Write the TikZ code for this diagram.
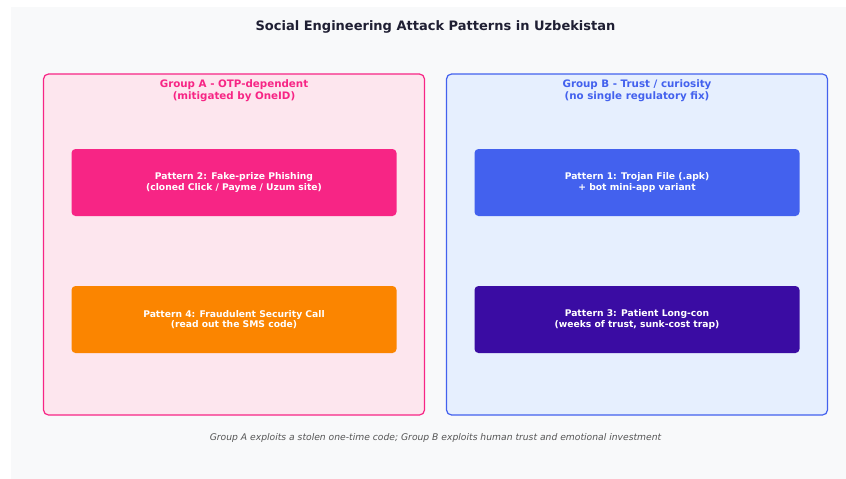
\documentclass[tikz,border=0pt]{standalone}
\usepackage{fontspec}
\setmainfont{DejaVu Sans}
\usepackage{tikz}
\usetikzlibrary{positioning}

\definecolor{bgpanel}{HTML}{F8F9FA}
\definecolor{titleink}{HTML}{1F1F33}
\definecolor{pinkA}{HTML}{F72585}
\definecolor{pinkAfill}{HTML}{FDE6EE}
\definecolor{blueB}{HTML}{4361EE}
\definecolor{blueBfill}{HTML}{E6EFFE}
\definecolor{orangeP}{HTML}{FB8500}
\definecolor{purpleP}{HTML}{3A0CA3}
\definecolor{noteink}{HTML}{555555}

\tikzstyle{group} = [rectangle, rounded corners=5pt, minimum width=381pt, minimum height=341pt, line width=1.2pt, inner sep=0pt]
\tikzstyle{grouplabel} = [font=\fontsize{10.3}{12}\selectfont\bfseries, align=center, inner sep=0pt]
\tikzstyle{pattern} = [rectangle, rounded corners=4pt, minimum width=325pt, minimum height=67pt, text=white, align=center, font=\fontsize{9.2}{10.2}\selectfont\bfseries, inner sep=0pt]

\begin{document}
\begin{tikzpicture}[x=1pt, y=-1pt]
\useasboundingbox (0,0) rectangle (846,479);
\fill[bgpanel] (11,7) rectangle (846,479);

\node (title) [font=\fontsize{13}{15}\selectfont\bfseries, text=titleink] at (435.5,27) {Social Engineering Attack Patterns in Uzbekistan};

% the two groups
\node (groupA) [group, draw=pinkA, fill=pinkAfill] at (234,244.5) {};
\node (groupB) [group, draw=blueB, fill=blueBfill] at (637,244.5) {};
\node (labelA) [grouplabel, text=pinkA, below=6.5pt of groupA.north] {Group A - OTP-dependent\\(mitigated by OneID)};
\node (labelB) [grouplabel, text=blueB, below=6.5pt of groupB.north] {Group B - Trust / curiosity\\(no single regulatory fix)};

% patterns inside each group
\node (phishing) [pattern, fill=pinkA] at (234,182.5) {Pattern 2: Fake-prize Phishing\\(cloned Click / Payme / Uzum site)};
\node (call) [pattern, fill=orangeP] at (234,319.5) {Pattern 4: Fraudulent Security Call\\(read out the SMS code)};
\node (trojan) [pattern, fill=blueB] at (637,182.5) {Pattern 1: Trojan File (.apk)\\+ bot mini-app variant};
\node (longcon) [pattern, fill=purpleP] at (637,319.5) {Pattern 3: Patient Long-con\\(weeks of trust, sunk-cost trap)};

\node (note) [font=\fontsize{9.2}{11}\selectfont\itshape, text=noteink] at (435.5,438) {Group A exploits a stolen one-time code; Group B exploits human trust and emotional investment};
\end{tikzpicture}
\end{document}
